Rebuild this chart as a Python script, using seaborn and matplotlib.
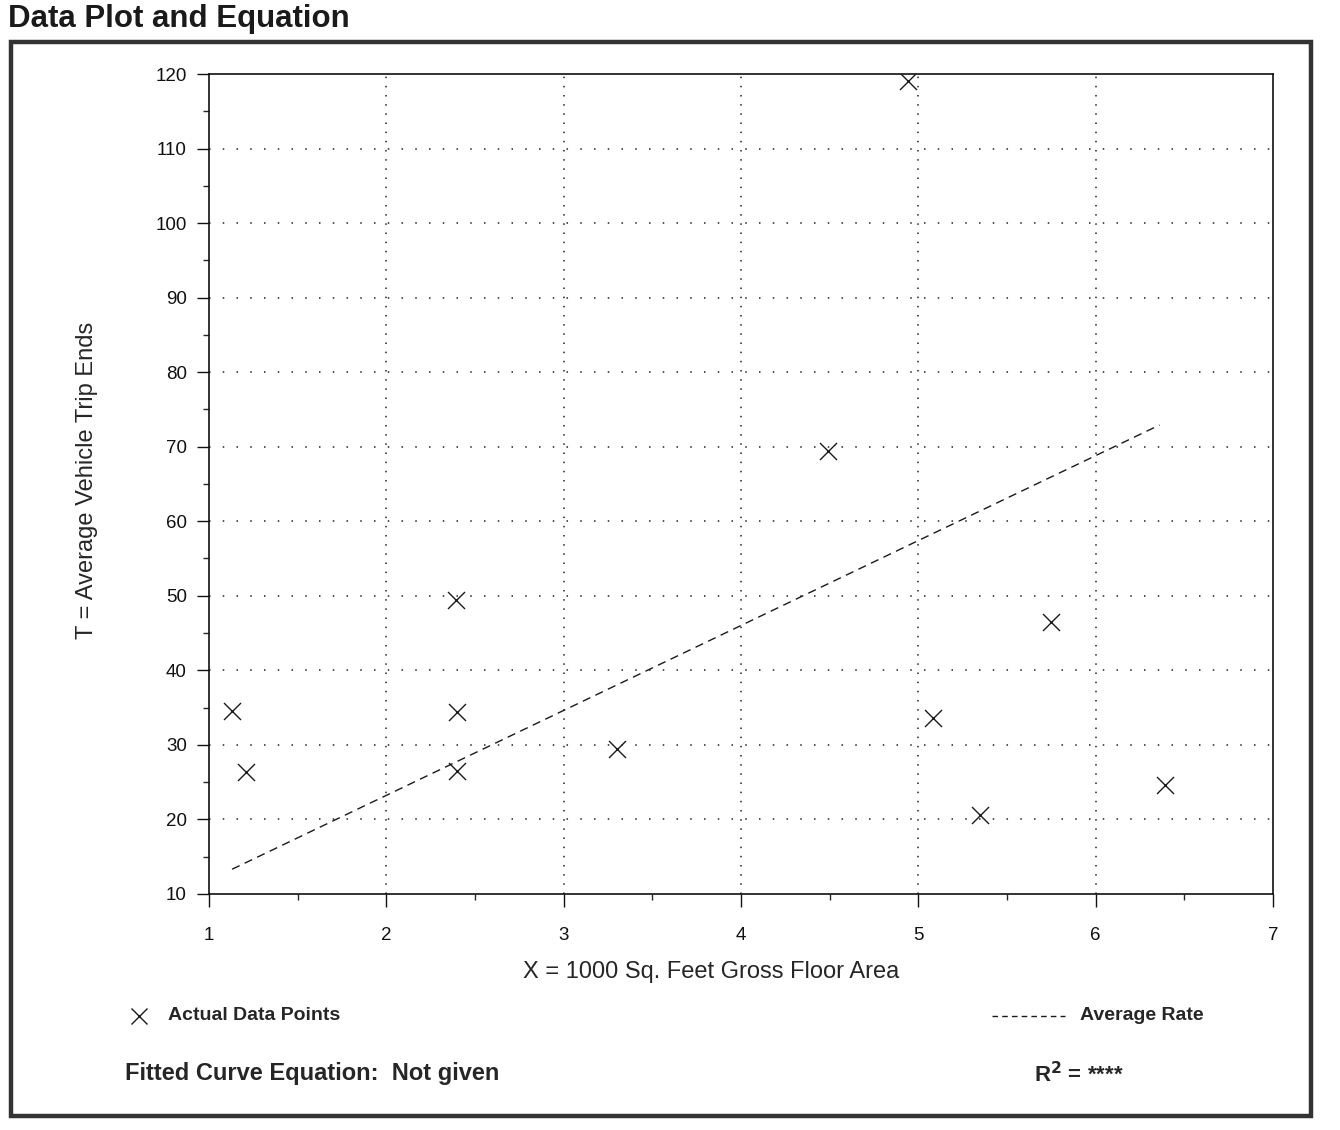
import matplotlib
matplotlib.use("Agg")
import matplotlib.pyplot as plt
import seaborn as sns
import pandas as pd
from matplotlib.lines import Line2D
from matplotlib.patches import Rectangle
from matplotlib.ticker import MultipleLocator

# ==============================
# DATA
# ==============================

area_x = [1.13, 1.21, 2.39, 2.40, 2.40, 3.30, 4.49, 4.94, 5.08, 5.35, 5.75, 6.39]
trip_ends = [34.5, 26.4, 49.4, 34.4, 26.5, 29.4, 69.4, 119.1, 33.6, 20.6, 46.5, 24.6]

avg_rate_x = [1.13, 6.36]
avg_rate_y = [13.3, 72.9]

x_ticks = [1, 2, 3, 4, 5, 6, 7]
y_ticks = [10, 20, 30, 40, 50, 60, 70, 80, 90, 100, 110, 120]

points = pd.DataFrame({"x": area_x, "t": trip_ends})
rate = pd.DataFrame({"x": avg_rate_x, "t": avg_rate_y})

# ==============================
# STYLE
# ==============================

sns.set_style("ticks")
plt.rcParams['font.family'] = ['Liberation Sans', 'DejaVu Sans']

fig = plt.figure(figsize=(13.4, 11.3), dpi=100)
ax = fig.add_axes([0.156, 0.209, 0.794, 0.7255])

# grid first so it sits under the marks
for xv in x_ticks[1:-1]:
    ax.axvline(xv, color="#222222", lw=1.1, ls=(0, (1, 5)), zorder=0)
for yv in y_ticks[1:-1]:
    ax.axhline(yv, color="#222222", lw=1.1, ls=(0, (1, 8)), zorder=0)

sns.scatterplot(data=points, x="x", y="t", marker="x", s=150, color="#1a1a1a",
                linewidth=1.0, ax=ax, zorder=3, legend=False)
sns.lineplot(data=rate, x="x", y="t", color="#1a1a1a", lw=1.0, ax=ax,
             dashes=False, zorder=2, legend=False)
ax.lines[-1].set_dashes((6, 4))

ax.set_xlim(1, 7)
ax.set_ylim(10, 120)
ax.set_xticks(x_ticks)
ax.set_yticks(y_ticks)
ax.xaxis.set_minor_locator(MultipleLocator(0.5))
ax.yaxis.set_minor_locator(MultipleLocator(5))
ax.tick_params(which="major", direction="out", length=9, width=1.0,
               labelsize=13.5, colors="#111111")
ax.tick_params(axis="x", which="major", pad=15)
ax.tick_params(axis="y", which="major", pad=7)
ax.tick_params(which="minor", direction="out", length=4, width=1.0)

for sp in ax.spines.values():
    sp.set_visible(True)
    sp.set_linewidth(1.2)
    sp.set_color("#111111")

ax.set_xlabel("")
ax.set_ylabel("")
fig.text(0.531, 0.14, "X = 1000 Sq. Feet Gross Floor Area", fontsize=17,
         ha="center", va="center")
fig.text(0.065, 0.575, "T = Average Vehicle Trip Ends", fontsize=17,
         ha="center", va="center", rotation=90)

# ==============================
# LEGEND / NOTES
# ==============================

fig.add_artist(Line2D([0.1035], [0.101], transform=fig.transFigure, marker="x",
                      markersize=12, markeredgewidth=1.0, color="#1a1a1a", ls="none"))
fig.text(0.125, 0.101, "Actual Data Points", fontsize=14, fontweight="bold",
         ha="left", va="center")

fig.add_artist(Line2D([0.740, 0.795], [0.101, 0.101], transform=fig.transFigure,
                      color="#1a1a1a", lw=1.0, dashes=(4, 3)))
fig.text(0.806, 0.101, "Average Rate", fontsize=14, fontweight="bold",
         ha="left", va="center")

fig.text(0.772, 0.049, "R$^{\\mathbf{2}}$ = ****", fontsize=16, fontweight="bold",
         ha="left", va="center")

fig.text(0.093, 0.05, "Fitted Curve Equation:  Not given", fontsize=17,
         fontweight="bold", ha="left", va="center")

# outer frame and heading
fig.add_artist(Rectangle((0.008, 0.012), 0.970, 0.951, transform=fig.transFigure,
                         fill=False, lw=3.2, edgecolor="#333333"))
fig.text(0.006, 0.970, "Data Plot and Equation", fontsize=22.5, fontweight="bold",
         ha="left", va="bottom", color="#1a1a1a")

fig.savefig("out.png", dpi=100)
plt.close(fig)
